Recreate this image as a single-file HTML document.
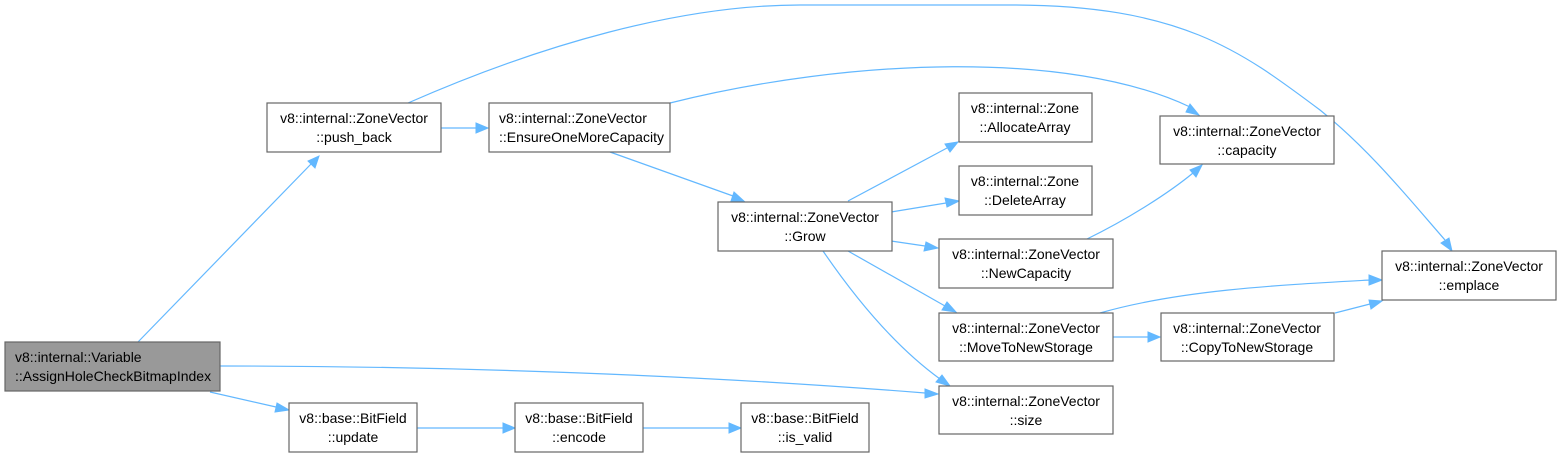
<!DOCTYPE html>
<html><head><meta charset="utf-8"><style>
html,body{margin:0;padding:0;background:#fff;width:1561px;height:458px;overflow:hidden}
text{font-family:"Liberation Sans",sans-serif;font-size:14px;fill:#000}
.b{fill:#fff;stroke:#666;stroke-width:1.2}
.e{fill:none;stroke:#63b8ff;stroke-width:1.2}
.a{fill:#63b8ff;stroke:#63b8ff}
</style></head><body>
<svg width="1561" height="458" xmlns="http://www.w3.org/2000/svg">
<path class="e" d="M138,342 L312,163"/><polygon class="a" points="319,156 315,168 308,161"/>
<path class="e" d="M220,366 C450,366 700,375 925,393"/><polygon class="a" points="938,394 925,398 925,389"/>
<path class="e" d="M210,392 L276,407"/><polygon class="a" points="289,410 275,412 277,403"/>
<path class="e" d="M441,128 L476,128"/><polygon class="a" points="488,128 476,133 476,123"/>
<path class="e" d="M408,103 C540,45 680,5 800,5 L1010,5 C1180,5 1240,50 1320,110 C1370,150 1410,200 1445,240"/><polygon class="a" points="1452,251 1441,243 1449,238"/>
<path class="e" d="M670,103 C850,58 1070,50 1190,107"/><polygon class="a" points="1199,115 1186,112 1190,104"/>
<path class="e" d="M610,152 L733,196"/><polygon class="a" points="745,202 731,201 734,192"/>
<path class="e" d="M848,201 L947,148"/><polygon class="a" points="958,142 950,152 945,144"/>
<path class="e" d="M891,212 L946,203"/><polygon class="a" points="959,201 947,207 945,198"/>
<path class="e" d="M891,241 L925,246"/><polygon class="a" points="938,248 924,251 926,242"/>
<path class="e" d="M848,251 L945,306"/><polygon class="a" points="956,312 942,310 947,302"/>
<path class="e" d="M823,251 C860,305 900,350 940,379"/><polygon class="a" points="950,386 936,382 942,375"/>
<path class="e" d="M1087,239 C1130,218 1170,192 1193,173"/><polygon class="a" points="1202,165 1196,177 1190,170"/>
<path class="e" d="M1100,313 C1180,290 1280,285 1370,280"/><polygon class="a" points="1382,280 1369,285 1369,275"/>
<path class="e" d="M1113,337 L1148,337"/><polygon class="a" points="1160,337 1148,342 1148,332"/>
<path class="e" d="M1335,313 L1370,304"/><polygon class="a" points="1382,301 1371,309 1369,300"/>
<path class="e" d="M417,428 L503,428"/><polygon class="a" points="515,428 503,433 503,423"/>
<path class="e" d="M643,428 L729,428"/><polygon class="a" points="741,428 729,433 729,423"/>
<rect x="5" y="342" width="215" height="49" fill="#999" stroke="#666" stroke-width="1.2"/>
<text x="15" y="362">v8::internal::Variable</text><text x="15" y="381">::AssignHoleCheckBitmapIndex</text>
<rect class="b" x="267" y="103" width="174" height="49"/>
<text x="354" y="123" text-anchor="middle">v8::internal::ZoneVector</text><text x="354" y="142" text-anchor="middle">::push_back</text>
<rect class="b" x="489" y="103" width="181" height="49"/>
<text x="499" y="123">v8::internal::ZoneVector</text><text x="499" y="142">::EnsureOneMoreCapacity</text>
<rect class="b" x="718" y="202" width="174" height="49"/>
<text x="805" y="222" text-anchor="middle">v8::internal::ZoneVector</text><text x="805" y="241" text-anchor="middle">::Grow</text>
<rect class="b" x="959" y="93" width="133" height="49"/>
<text x="1025" y="113" text-anchor="middle">v8::internal::Zone</text><text x="1025" y="132" text-anchor="middle">::AllocateArray</text>
<rect class="b" x="959" y="166" width="133" height="49"/>
<text x="1025" y="186" text-anchor="middle">v8::internal::Zone</text><text x="1025" y="205" text-anchor="middle">::DeleteArray</text>
<rect class="b" x="939" y="239" width="174" height="49"/>
<text x="1026" y="259" text-anchor="middle">v8::internal::ZoneVector</text><text x="1026" y="278" text-anchor="middle">::NewCapacity</text>
<rect class="b" x="939" y="313" width="174" height="48"/>
<text x="1026" y="333" text-anchor="middle">v8::internal::ZoneVector</text><text x="1026" y="352" text-anchor="middle">::MoveToNewStorage</text>
<rect class="b" x="939" y="386" width="174" height="48"/>
<text x="1026" y="406" text-anchor="middle">v8::internal::ZoneVector</text><text x="1026" y="425" text-anchor="middle">::size</text>
<rect class="b" x="1160" y="116" width="174" height="48"/>
<text x="1247" y="136" text-anchor="middle">v8::internal::ZoneVector</text><text x="1247" y="155" text-anchor="middle">::capacity</text>
<rect class="b" x="1161" y="313" width="173" height="48"/>
<text x="1247" y="333" text-anchor="middle">v8::internal::ZoneVector</text><text x="1247" y="352" text-anchor="middle">::CopyToNewStorage</text>
<rect class="b" x="1382" y="251" width="174" height="49"/>
<text x="1469" y="271" text-anchor="middle">v8::internal::ZoneVector</text><text x="1469" y="290" text-anchor="middle">::emplace</text>
<rect class="b" x="289" y="403" width="128" height="49"/>
<text x="353" y="423" text-anchor="middle">v8::base::BitField</text><text x="353" y="442" text-anchor="middle">::update</text>
<rect class="b" x="515" y="403" width="128" height="49"/>
<text x="579" y="423" text-anchor="middle">v8::base::BitField</text><text x="579" y="442" text-anchor="middle">::encode</text>
<rect class="b" x="741" y="403" width="128" height="49"/>
<text x="805" y="423" text-anchor="middle">v8::base::BitField</text><text x="805" y="442" text-anchor="middle">::is_valid</text>
</svg>
</body></html>
